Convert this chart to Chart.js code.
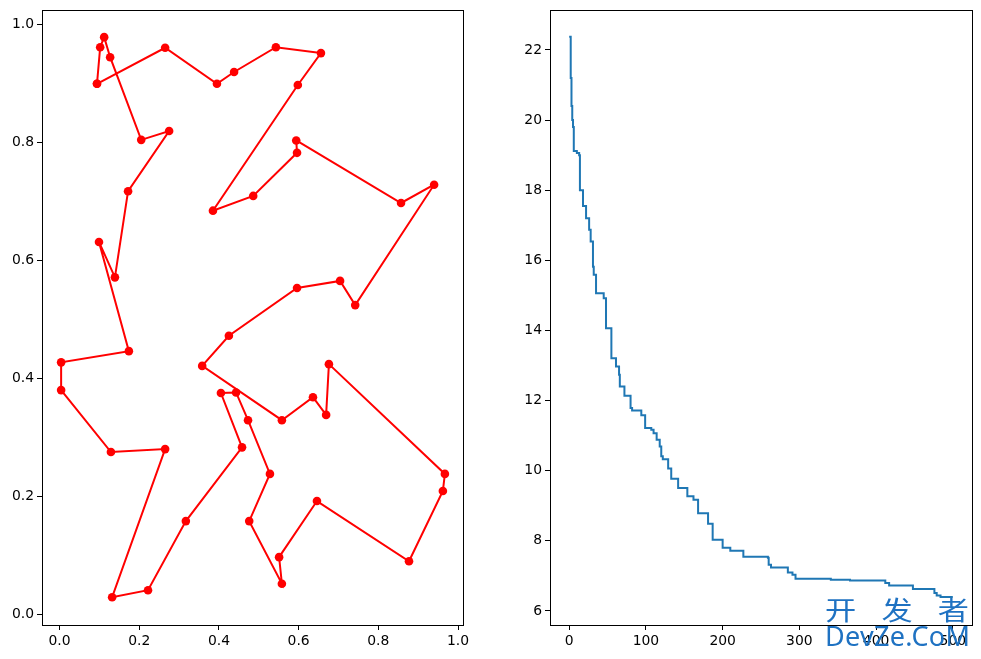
<!DOCTYPE html>
<html>
<head>
<meta charset="utf-8">
<script src="https://cdn.jsdelivr.net/npm/chart.js@4.4.0/dist/chart.umd.min.js"></script>
<style>
body { margin: 0; background: #fff; }
#wrap { position: relative; width: 981px; height: 659px; overflow: hidden; }
canvas { position: absolute; top: 0; }
.mark { position: absolute; color: #1f72c2; white-space: nowrap; transform-origin: 0 0; }
#markCn { left: 825px; top: 590px; font: 26px "Noto Sans CJK SC"; letter-spacing: 21px; transform: scaleX(1.2); }
#markEn { left: 825px; top: 617px; font: 27px "Noto Sans"; letter-spacing: 0.3px; }
</style>
</head>
<body>
<div id="wrap">
  <canvas id="tourChart" width="470" height="659" style="left:0"></canvas>
  <canvas id="costChart" width="481" height="659" style="left:500px"></canvas>
  <div class="mark" id="markCn">开发者</div>
  <div class="mark" id="markEn">DevZe.CoM</div>
</div>
<script>
// city coordinates in visiting order (tour gets closed back to the first city)
const cityX = [0.094, 0.102, 0.112, 0.127, 0.205, 0.275, 0.172, 0.139, 0.099, 0.174,
               0.004, 0.004, 0.129, 0.265, 0.132, 0.222, 0.317, 0.458, 0.405, 0.443,
               0.473, 0.528, 0.476, 0.558, 0.551, 0.646, 0.877, 0.962, 0.967, 0.676,
               0.669, 0.636, 0.558, 0.358, 0.425, 0.596, 0.704, 0.742, 0.940, 0.857,
               0.594, 0.596, 0.486, 0.385, 0.598, 0.656, 0.543, 0.438, 0.395, 0.265];
const cityY = [0.899, 0.961, 0.978, 0.944, 0.804, 0.819, 0.717, 0.571, 0.631, 0.446,
               0.427, 0.380, 0.275, 0.280, 0.029, 0.041, 0.158, 0.283, 0.375, 0.376,
               0.329, 0.238, 0.158, 0.052, 0.097, 0.192, 0.090, 0.209, 0.238, 0.424,
               0.338, 0.368, 0.329, 0.421, 0.472, 0.553, 0.565, 0.524, 0.728, 0.697,
               0.803, 0.782, 0.709, 0.684, 0.897, 0.951, 0.961, 0.919, 0.899, 0.960];

// best distance so far: iteration where it changes, and new value
const iterIdx  = [0, 2, 3, 4, 5, 6, 10, 13, 14, 18, 22, 26, 28, 31, 32, 35, 45, 48, 55, 61,
                  65, 66, 72, 80, 82, 94, 99, 107, 110, 114, 118, 120, 122, 129, 133, 142, 154, 162, 168, 181,
                  187, 200, 210, 227, 259, 260, 263, 285, 291, 295, 341, 366, 412, 417, 448, 476, 479, 484, 500];
const bestCost = [22.38, 21.2, 20.4, 20.0, 19.8, 19.12, 19.06, 19.0, 18.0, 17.55, 17.2, 16.87, 16.54, 15.82, 15.59, 15.06, 14.92, 14.06, 13.21, 12.97,
                  12.74, 12.40, 12.14, 11.79, 11.72, 11.58, 11.22, 11.17, 11.07, 10.88, 10.69, 10.41, 10.33, 10.06, 9.77, 9.51, 9.27, 9.17, 8.79, 8.49,
                  8.03, 7.80, 7.72, 7.55, 7.52, 7.32, 7.24, 7.10, 7.03, 6.92, 6.89, 6.87, 6.80, 6.73, 6.63, 6.51, 6.44, 6.40, 6.40];

const tourTicks = [0.0, 0.2, 0.4, 0.6, 0.8, 1.0];
const iterTicks = [0, 100, 200, 300, 400, 500];
const costTicks = [6, 8, 10, 12, 14, 16, 18, 20, 22];

// matplotlib-like box around the axes
const boxPlugin = {
    id: 'box',
    afterDraw(chart) {
        const a = chart.chartArea;
        const ctx = chart.ctx;
        ctx.save();
        ctx.strokeStyle = '#000';
        ctx.lineWidth = 1;
        ctx.strokeRect(Math.round(a.left) + 0.5, Math.round(a.top) + 0.5,
                       Math.round(a.right - a.left), Math.round(a.bottom - a.top));
        ctx.restore();
    }
};

function axis(min, max, ticks, digits, isX, size) {
    return {
        type: 'linear',
        min: min,
        max: max,
        afterBuildTicks: (s) => { s.ticks = ticks.map(v => ({ value: v })); },
        afterFit: (s) => {
            if (isX) { s.height = size; s.paddingLeft = 0; s.paddingRight = 0; }
            else { s.width = size; s.paddingTop = 0; s.paddingBottom = 0; }
        },
        ticks: {
            color: '#000',
            font: { family: 'DejaVu Sans', size: 13.9 },
            padding: 3,
            autoSkip: false,
            maxRotation: 0,
            callback: (v) => Number(v).toFixed(digits)
        },
        grid: { drawOnChartArea: false, drawTicks: true, tickLength: 5, color: '#000' },
        border: { display: true, color: '#000', width: 1 }
    };
}

const tourPts = cityX.map((x, i) => ({ x: x, y: cityY[i] }));
tourPts.push(tourPts[0]);

new Chart(document.getElementById('tourChart'), {
    type: 'scatter',
    data: {
        datasets: [{
            data: tourPts,
            showLine: true,
            borderColor: '#ff0000',
            backgroundColor: '#ff0000',
            borderWidth: 2,
            pointRadius: 4.3,
            pointBorderWidth: 0,
            pointBackgroundColor: '#ff0000'
        }]
    },
    options: {
        responsive: false,
        animation: false,
        layout: { padding: { top: 10, right: 7, left: 0, bottom: 0 } },
        plugins: { legend: { display: false }, tooltip: { enabled: false } },
        scales: {
            x: axis(-0.044, 1.0125, tourTicks, 1, true, 34),
            y: axis(-0.018, 1.024, tourTicks, 1, false, 42)
        }
    },
    plugins: [boxPlugin]
});

const costPts = iterIdx.map((it, i) => ({ x: it, y: bestCost[i] }));

new Chart(document.getElementById('costChart'), {
    type: 'line',
    data: {
        datasets: [{
            data: costPts,
            borderColor: '#1f77b4',
            borderWidth: 2,
            pointRadius: 0,
            stepped: 'before',
            fill: false
        }]
    },
    options: {
        responsive: false,
        animation: false,
        layout: { padding: { top: 10, right: 9, left: 0, bottom: 0 } },
        plugins: { legend: { display: false }, tooltip: { enabled: false } },
        scales: {
            x: axis(-25, 525, iterTicks, 0, true, 34),
            y: axis(5.60, 23.14, costTicks, 0, false, 50)
        }
    },
    plugins: [boxPlugin]
});
</script>
</body>
</html>
